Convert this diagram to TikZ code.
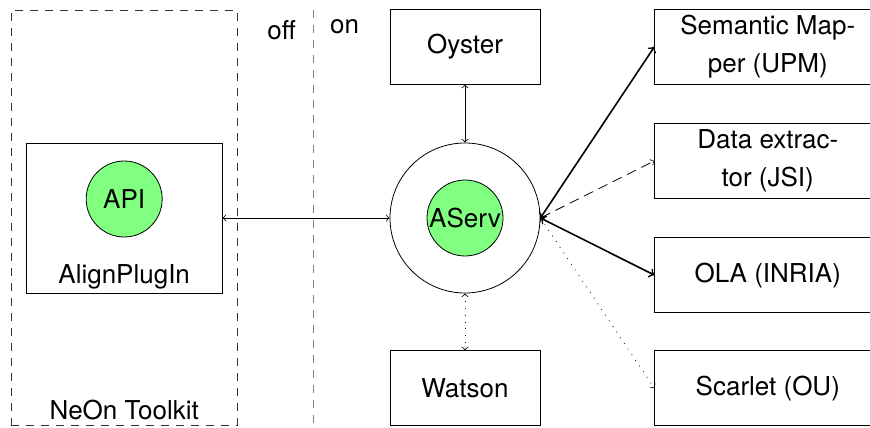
\documentclass[tikz,border=0pt]{standalone}
\usepackage{fontspec}
\setmainfont{TeX Gyre Heros}
\usetikzlibrary{positioning}

\begin{document}
\begin{tikzpicture}[font=\fontsize{13pt}{19pt}\selectfont,
        box/.style={rectangle, draw, align=center, minimum width=75pt, minimum height=37.5pt, inner sep=0pt},
        widebox/.style={box, minimum width=113pt},
        ball/.style={circle, draw, fill=green!50, minimum size=38pt, inner sep=0pt},
        ring/.style={circle, draw, minimum size=75pt, inner sep=0pt},
        frame/.style={rectangle, draw=black!80, dash pattern=on 4pt off 3.5pt},
        arrow/.style={<->},
        thickarrow/.style={<->, thick},
        dasharrow/.style={<->, dash pattern=on 5pt off 3pt},
        dotarrow/.style={<->, dash pattern=on 0.4pt off 3pt}]

        \useasboundingbox (-232.5pt,-104.5pt) rectangle (202.5pt,109pt);
        \clip (-232.5pt,-104.5pt) rectangle (202.5pt,109pt);

        % Server
        \node[ring] (aservring) {};
        \node[ball] (aserv) at (aservring) {AServ};
        \node[box, above=29pt of aservring] (oyster) {Oyster};
        \node[box, below=28.5pt of aservring] (watson) {Watson};

        % Clients
        \node[widebox, right=57pt of oyster] (semantic) {Semantic Map-\\per (UPM)};
        \node[widebox, below=19.2pt of semantic] (extractor) {Data extrac-\\tor (JSI)};
        \node[widebox, below=19.2pt of extractor] (ola) {OLA (INRIA)};
        \node[widebox, right=57pt of watson] (scarlet) {Scarlet (OU)};

        % Toolkit side
        \node[box, minimum width=98pt, minimum height=75pt, left=83.5pt of aservring] (plugin) {};
        \node[ball] (api) at ([yshift=9.5pt]plugin.center) {API};
        \node[anchor=base] (plugintext) at ([yshift=5pt]plugin.south) {AlignPlugIn};
        \node[frame, minimum width=113pt, minimum height=207.5pt, inner sep=0pt] (neon) at ([yshift=0.25pt]plugin.center) {};
        \node[anchor=base] (neontext) at ([yshift=3pt]neon.south) {NeOn Toolkit};

        % off / on
        \coordinate (divtop) at ([xshift=38pt]neon.north east);
        \coordinate (divbot) at ([xshift=38pt]neon.south east);
        \draw[gray, dash pattern=on 4pt off 3.5pt] (divtop) -- (divbot);
        \node[anchor=base] (offtext) at ([xshift=-16pt, yshift=-15pt]divtop) {off};
        \node[anchor=base] (ontext) at ([xshift=15.5pt, yshift=-12pt]divtop) {on};

        % Arrows
        \draw[arrow] (plugin.east) -- (aservring.west);
        \draw[arrow] (oyster) -- (aservring);
        \draw[dotarrow] (aservring) -- (watson);
        \draw[thickarrow] (aservring.east) -- (semantic.west);
        \draw[dasharrow] (aservring.east) -- (extractor.west);
        \draw[thickarrow] (aservring.east) -- (ola.west);
        \draw[dotarrow] (aservring.east) -- (scarlet.west);

\end{tikzpicture}
\end{document}
